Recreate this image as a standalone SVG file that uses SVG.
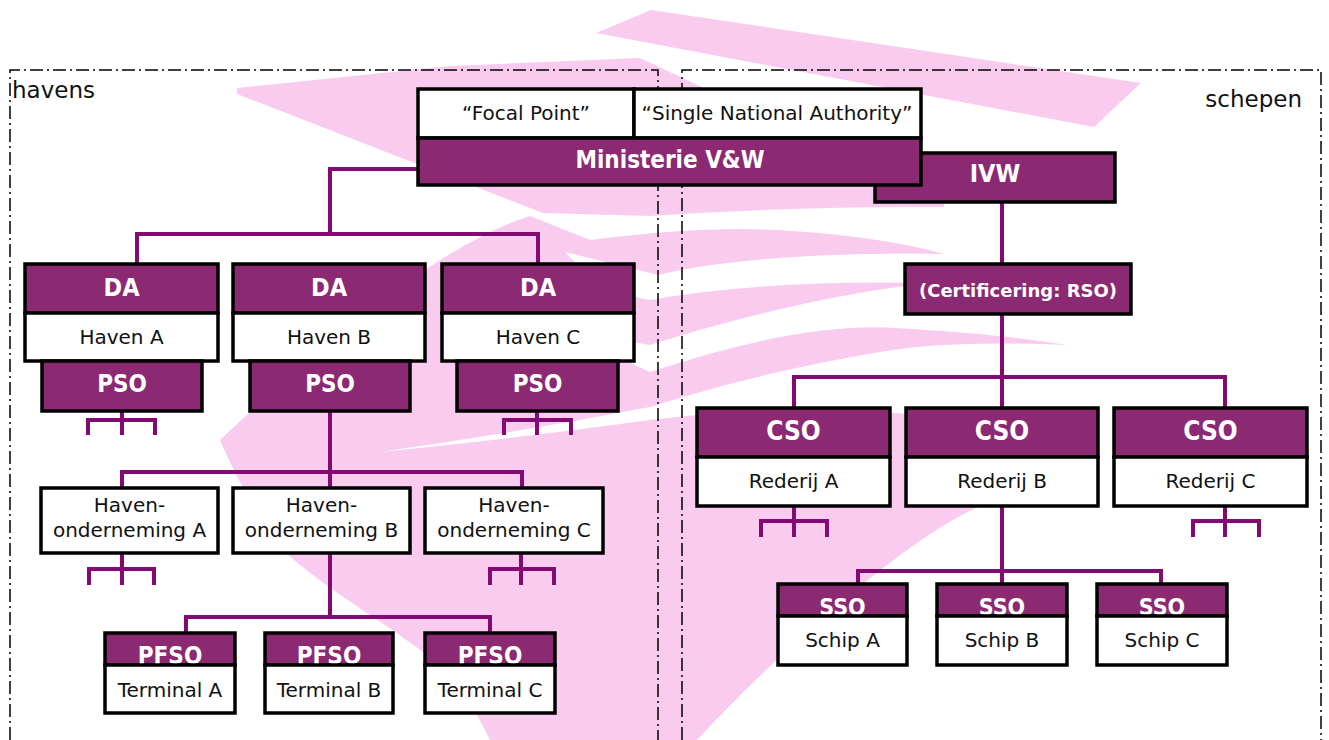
<svg xmlns="http://www.w3.org/2000/svg" width="1329" height="740" viewBox="0 0 1329 740">
<style>
.bg{fill:#f9ccef;stroke:none}
.dash{fill:none;stroke:#000;stroke-width:1.5;stroke-dasharray:13 4 2 4}
.c{fill:none;stroke:#820a72;stroke-width:4}
.hd{fill:#8b2a72;stroke:#000;stroke-width:3.5}
.bd{fill:#fff;stroke:#000;stroke-width:3.5}
.lb{font-family:"DejaVu Sans Condensed","DejaVu Sans",sans-serif;font-weight:bold;fill:#fff;text-anchor:middle}
.tx{font-family:"DejaVu Sans",sans-serif;fill:#111;text-anchor:middle;font-size:20px}
.area{font-family:"DejaVu Sans",sans-serif;fill:#111;font-size:23px}
</style>
<rect width="1329" height="740" fill="#fff"/>
<g id="background">
<path class="bg" d="M651,10 L1141,83 L1094,127 L596,33 Z"/>
<path class="bg" d="M237,88 L450,66 L640,58 L944,201 L944,207 Q800,206 650,216 L543,213 L237,94 Z"/>
<path class="bg" d="M220,440 Q420,250 530,216 L590,240 Q700,226 778,230 Q880,236 944,254 Q860,252 778,258 Q700,264 658,275 L565,252 Q600,292 650,300 Q760,280 927,283 Q800,298 650,345 L560,330 L650,372 Q800,322 896,328 Q1000,334 1067,345 Q950,340 880,352 Q760,372 650,407 Q520,432 380,452 Q500,440 613,425 Q700,412 790,410 Q950,405 1040,450 Q1000,480 983,505 C920,530 800,630 697,740 L490,740 Q460,680 444,667 Q400,635 367,613 Q310,575 286,553 Q245,500 220,440 Z"/>
</g>
<g id="areas">
<path class="dash" d="M10,740 V70 H658 V740"/>
<path class="dash" d="M682,740 V70 H1321 V740"/>
<text class="area" x="12" y="98">havens</text>
<text class="area" x="1302" y="107" text-anchor="end">schepen</text>
</g>
<g id="connectors">
<path class="c" d="M418,169 H330 V234"/>
<path class="c" d="M137,263 V234 H538 V263"/>
<path class="c" d="M122,411 V435 M88,435 V420 H155 V435"/>
<path class="c" d="M537,411 V435 M504,435 V420 H571 V435"/>
<path class="c" d="M330,411 V617"/>
<path class="c" d="M122,488 V472 H522 V488"/>
<path class="c" d="M186,633 V617 H490 V633"/>
<path class="c" d="M122,553 V585 M89,585 V569 H154 V585"/>
<path class="c" d="M521,553 V585 M490,585 V569 H554 V585"/>
<path class="c" d="M1002,202 V264"/>
<path class="c" d="M1002,314 V408"/>
<path class="c" d="M794,408 V377 H1225 V408"/>
<path class="c" d="M794,506 V537 M761,537 V521 H827 V537"/>
<path class="c" d="M1225,506 V537 M1193,537 V521 H1259 V537"/>
<path class="c" d="M1002,506 V584"/>
<path class="c" d="M858,584 V571 H1161 V584"/>
</g>
<g id="ivw">
<rect class="hd" x="875" y="153" width="240" height="49"/>
<text class="lb" x="995" y="182" font-size="25">IVW</text>
</g>
<g id="ministerie">
<rect class="bd" x="418" y="89" width="216" height="49"/>
<rect class="bd" x="634" y="89" width="287" height="49"/>
<rect class="hd" x="418" y="138" width="503" height="47"/>
<text class="tx" x="526" y="120">“Focal Point”</text>
<text class="tx" x="777" y="120">“Single National Authority”</text>
<text class="lb" x="670" y="168" font-size="24">Ministerie V&amp;W</text>
</g>
<g id="haven-a">
<rect class="hd" x="25" y="264" width="193" height="49"/>
<rect class="bd" x="25" y="313" width="193" height="48"/>
<rect class="hd" x="42" y="361" width="160" height="50"/>
<text class="lb" x="121.5" y="296" font-size="25">DA</text>
<text class="tx" x="121.5" y="344">Haven A</text>
<text class="lb" x="122" y="392" font-size="24">PSO</text>
</g>
<g id="haven-b">
<rect class="hd" x="233" y="264" width="192" height="49"/>
<rect class="bd" x="233" y="313" width="192" height="48"/>
<rect class="hd" x="250" y="361" width="160" height="50"/>
<text class="lb" x="329" y="296" font-size="25">DA</text>
<text class="tx" x="329" y="344">Haven B</text>
<text class="lb" x="330" y="392" font-size="24">PSO</text>
</g>
<g id="haven-c">
<rect class="hd" x="442" y="264" width="192" height="49"/>
<rect class="bd" x="442" y="313" width="192" height="48"/>
<rect class="hd" x="457" y="361" width="161" height="50"/>
<text class="lb" x="538" y="296" font-size="25">DA</text>
<text class="tx" x="538" y="344">Haven C</text>
<text class="lb" x="537.5" y="392" font-size="24">PSO</text>
</g>
<g id="havenonderneming-a">
<rect class="bd" x="41" y="488" width="177" height="65"/>
<text class="tx" x="129.5" y="512">Haven-</text>
<text class="tx" x="129.5" y="537">onderneming A</text>
</g>
<g id="havenonderneming-b">
<rect class="bd" x="233" y="488" width="177" height="65"/>
<text class="tx" x="321.5" y="512">Haven-</text>
<text class="tx" x="321.5" y="537">onderneming B</text>
</g>
<g id="havenonderneming-c">
<rect class="bd" x="425" y="488" width="178" height="65"/>
<text class="tx" x="514" y="512">Haven-</text>
<text class="tx" x="514" y="537">onderneming C</text>
</g>
<g id="terminal-a">
<rect class="hd" x="105" y="633" width="130" height="32"/>
<text class="lb" x="170" y="664" font-size="24">PFSO</text>
<rect class="bd" x="105" y="665" width="130" height="48"/>
<text class="tx" x="170" y="697">Terminal A</text>
</g>
<g id="terminal-b">
<rect class="hd" x="265" y="633" width="128" height="32"/>
<text class="lb" x="329" y="664" font-size="24">PFSO</text>
<rect class="bd" x="265" y="665" width="128" height="48"/>
<text class="tx" x="329" y="697">Terminal B</text>
</g>
<g id="terminal-c">
<rect class="hd" x="425" y="633" width="130" height="32"/>
<text class="lb" x="490" y="664" font-size="24">PFSO</text>
<rect class="bd" x="425" y="665" width="130" height="48"/>
<text class="tx" x="490" y="697">Terminal C</text>
</g>
<g id="rso">
<rect class="hd" x="905" y="264" width="226" height="50"/>
<text x="1018" y="297" font-family="DejaVu Sans, sans-serif" font-weight="bold" font-size="18" fill="#fff" text-anchor="middle">(Certificering: RSO)</text>
</g>
<g id="rederij-a">
<rect class="hd" x="697" y="408" width="193" height="49"/>
<rect class="bd" x="697" y="457" width="193" height="49"/>
<text class="lb" x="793.5" y="440" font-size="26">CSO</text>
<text class="tx" x="793.5" y="488">Rederij A</text>
</g>
<g id="rederij-b">
<rect class="hd" x="906" y="408" width="192" height="49"/>
<rect class="bd" x="906" y="457" width="192" height="49"/>
<text class="lb" x="1002" y="440" font-size="26">CSO</text>
<text class="tx" x="1002" y="488">Rederij B</text>
</g>
<g id="rederij-c">
<rect class="hd" x="1114" y="408" width="193" height="49"/>
<rect class="bd" x="1114" y="457" width="193" height="49"/>
<text class="lb" x="1210.5" y="440" font-size="26">CSO</text>
<text class="tx" x="1210.5" y="488">Rederij C</text>
</g>
<g id="schip-a">
<rect class="hd" x="778" y="584" width="129" height="32"/>
<text class="lb" x="842.5" y="615" font-size="23">SSO</text>
<rect class="bd" x="778" y="616" width="129" height="49"/>
<text class="tx" x="842.5" y="647">Schip A</text>
</g>
<g id="schip-b">
<rect class="hd" x="937" y="584" width="130" height="32"/>
<text class="lb" x="1002" y="615" font-size="23">SSO</text>
<rect class="bd" x="937" y="616" width="130" height="49"/>
<text class="tx" x="1002" y="647">Schip B</text>
</g>
<g id="schip-c">
<rect class="hd" x="1097" y="584" width="130" height="32"/>
<text class="lb" x="1162" y="615" font-size="23">SSO</text>
<rect class="bd" x="1097" y="616" width="130" height="49"/>
<text class="tx" x="1162" y="647">Schip C</text>
</g>
</svg>
